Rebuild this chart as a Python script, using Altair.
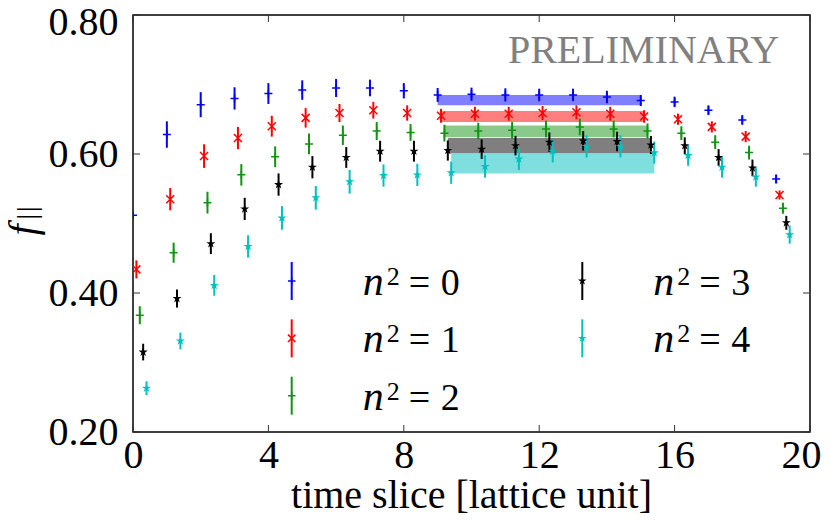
import altair as alt
import pandas as pd

# ---------------- data ----------------
T = list(range(20))
SERIES = ["0", "1", "2", "3", "4"]

F0 = [0.512, 0.628, 0.671, 0.680, 0.687, 0.692, 0.695, 0.695, 0.691, 0.685,
      0.686, 0.685, 0.685, 0.685, 0.682, 0.677, 0.675, 0.663, 0.649, 0.564]
E0 = [0.003, 0.019, 0.018, 0.016, 0.015, 0.014, 0.013, 0.012, 0.011, 0.010,
      0.0095, 0.0095, 0.009, 0.009, 0.009, 0.008, 0.0075, 0.007, 0.007, 0.0065]

F1 = [0.434, 0.535, 0.597, 0.623, 0.640, 0.652, 0.659, 0.663, 0.659, 0.655,
      0.658, 0.658, 0.659, 0.660, 0.658, 0.654, 0.650, 0.639, 0.625, 0.541]
E1 = [0.013, 0.016, 0.017, 0.016, 0.015, 0.014, 0.013, 0.012, 0.011, 0.010,
      0.010, 0.010, 0.010, 0.010, 0.010, 0.009, 0.008, 0.008, 0.008, 0.0065]

F2 = [0.368, 0.458, 0.530, 0.570, 0.596, 0.6145, 0.627, 0.633, 0.631, 0.630,
      0.633, 0.634, 0.636, 0.639, 0.636, 0.633, 0.630, 0.617, 0.602, 0.522]
E2 = [0.013, 0.0145, 0.0157, 0.0155, 0.015, 0.015, 0.014, 0.013, 0.012, 0.012,
      0.012, 0.012, 0.012, 0.012, 0.012, 0.011, 0.010, 0.010, 0.010, 0.008]

F3 = [0.315, 0.392, 0.471, 0.521, 0.556, 0.581, 0.595, 0.604, 0.604, 0.605,
      0.607, 0.612, 0.617, 0.619, 0.618, 0.613, 0.612, 0.595, 0.580, 0.501]
E3 = [0.012, 0.013, 0.015, 0.016, 0.016, 0.016, 0.015, 0.015, 0.015, 0.0145,
      0.014, 0.014, 0.014, 0.014, 0.014, 0.013, 0.012, 0.012, 0.012, 0.010]

F4 = [0.263, 0.331, 0.411, 0.467, 0.508, 0.537, 0.560, 0.569, 0.570, 0.573,
      0.582, 0.593, 0.604, 0.611, 0.611, 0.602, 0.598, 0.581, 0.567, 0.484]
E4 = [0.010, 0.012, 0.015, 0.016, 0.017, 0.017, 0.017, 0.016, 0.016, 0.016,
      0.016, 0.016, 0.016, 0.016, 0.016, 0.016, 0.015, 0.015, 0.014, 0.013]

# fit bands (plateau results)
BAND_X0 = [9.0, 9.1, 9.2, 9.3, 9.4]
BAND_X1 = [15.0, 15.1, 15.2, 15.3, 15.4]
BAND_LO = [0.670, 0.646, 0.624, 0.601, 0.572]
BAND_HI = [0.685, 0.662, 0.641, 0.623, 0.601]

XTICKS = [0, 4, 8, 12, 16, 20]
YTICKS = [0.2, 0.4, 0.6, 0.8]
LEGEND_DIGITS = ["0", "1", "2", "3", "4"]
WATERMARK = "PRELIMINARY"
XTITLE = "time slice [lattice unit]"
YTITLE_MAIN = "f"
YTITLE_SUB = "|"

# ---------------- styles / layout ----------------
COLORS = ["#0000ff", "#ff0000", "#139313", "#000000", "#00c0c0"]
PLUS = "M-1,0L1,0M0,-1L0,1"
CROSS = "M-1,-1L1,1M-1,1L1,-1"
STAR = ("M0,-1L0.225,-0.309L0.951,-0.309L0.363,0.118L0.588,0.809L0,0.382"
        "L-0.588,0.809L-0.363,0.118L-0.951,-0.309L-0.225,-0.309Z")
SHAPES = [PLUS, CROSS, PLUS, STAR, STAR]
FONT = "Liberation Serif"
W, H = 677, 417
XDOM = [0, 20]
YDOM = [0.2, 0.8]
OFFSET = 0.1  # horizontal shift between series

FS = [F0, F1, F2, F3, F4]
ES = [E0, E1, E2, E3, E4]
rows = []
for k, (F, E) in enumerate(zip(FS, ES)):
    for t, f, e in zip(T, F, E):
        rows.append(dict(s=SERIES[k], x=t + OFFSET * k, f=f, lo=f - e, hi=f + e))
df = pd.DataFrame(rows)

bands = pd.DataFrame(dict(s=SERIES, x0=BAND_X0, x1=BAND_X1, lo=BAND_LO, hi=BAND_HI))

xs = alt.Scale(domain=XDOM, nice=False, zero=False)
ys = alt.Scale(domain=YDOM, nice=False, zero=False)
cs = alt.Scale(domain=SERIES, range=COLORS)
ss = alt.Scale(domain=SERIES, range=SHAPES)

X_AXIS = alt.Axis(values=XTICKS, format="d", labelFont=FONT, labelFontSize=40,
                  labelColor="black", ticks=False, domain=False, grid=False,
                  labelPadding=3, labelFlush=False, labelOverlap=False, title=None,
                  labelOffset={"condition": {"test": "datum.value == 20", "value": -9},
                               "value": 0})
Y_AXIS = alt.Axis(values=YTICKS, format=".2f", labelFont=FONT, labelFontSize=40,
                  labelColor="black", ticks=False, domain=False, grid=False,
                  labelPadding=15, labelFlush=False, labelOverlap=False, title=None,
                  labelOffset={"condition": {"test": "datum.value > 0.75", "value": 7},
                               "value": 0})


def X(field):
    return alt.X(field, type="quantitative", scale=xs, axis=X_AXIS)


def Y(field):
    return alt.Y(field, type="quantitative", scale=ys, axis=Y_AXIS)


COL = alt.Color("s:N", scale=cs, legend=None)
SHP = alt.Shape("s:N", scale=ss, legend=None)

band_layer = alt.Chart(bands).mark_rect(opacity=0.5).encode(
    x=X("x0"), x2="x1", y=Y("lo"), y2="hi", color=COL)

err_layer = alt.Chart(df).mark_rule(strokeWidth=2, clip=True).encode(
    x=X("x"), y=Y("lo"), y2="hi", color=COL)

line_pts = alt.Chart(df).transform_filter(
    alt.FieldOneOfPredicate(field="s", oneOf=["0", "1", "2"])
).mark_point(filled=False, size=64, strokeWidth=1.5, opacity=1, clip=True).encode(
    x=X("x"), y=Y("f"), color=COL, shape=SHP)

star_pts = alt.Chart(df).transform_filter(
    alt.FieldOneOfPredicate(field="s", oneOf=["3", "4"])
).mark_point(filled=True, size=90, strokeWidth=0.5, opacity=1, clip=True).encode(
    x=X("x"), y=Y("f"), color=COL, fill=COL, shape=SHP)

# inward ticks on all four sides
xt = pd.DataFrame(dict(v=XTICKS))
yt = pd.DataFrame(dict(v=YTICKS))
TICK = dict(color="#333333", strokeWidth=1)
tick_b = alt.Chart(xt).mark_rule(**TICK).encode(x=X("v"), y=alt.value(H), y2=alt.value(H - 7))
tick_t = alt.Chart(xt).mark_rule(**TICK).encode(x=X("v"), y=alt.value(0), y2=alt.value(7))
tick_l = alt.Chart(yt).mark_rule(**TICK).encode(y=Y("v"), x=alt.value(0), x2=alt.value(7))
tick_r = alt.Chart(yt).mark_rule(**TICK).encode(y=Y("v"), x=alt.value(W), x2=alt.value(W - 7))

# legend (two columns, column-wise fill)
LEG_COL_PX = [158.7, 449.3]
LEG_ROW_PX = [266.0, 323.35, 380.7]
HALF = 19
leg_rows = []
for i, s in enumerate(SERIES):
    px = LEG_COL_PX[i // 3]
    py = LEG_ROW_PX[i % 3]
    leg_rows.append(dict(
        s=s, d=LEGEND_DIGITS[i],
        lx=XDOM[0] + px / W * (XDOM[1] - XDOM[0]),
        ly=YDOM[1] - py / H * (YDOM[1] - YDOM[0]),
        llo=YDOM[1] - (py + HALF) / H * (YDOM[1] - YDOM[0]),
        lhi=YDOM[1] - (py - HALF) / H * (YDOM[1] - YDOM[0]),
    ))
leg = pd.DataFrame(leg_rows)

leg_bar = alt.Chart(leg).mark_rule(strokeWidth=2).encode(
    x=X("lx"), y=Y("llo"), y2="lhi", color=COL)
leg_line_pts = alt.Chart(leg).transform_filter(
    alt.FieldOneOfPredicate(field="s", oneOf=["0", "1", "2"])
).mark_point(filled=False, size=56, strokeWidth=1.5, opacity=1).encode(
    x=X("lx"), y=Y("ly"), color=COL, shape=SHP)
leg_star_pts = alt.Chart(leg).transform_filter(
    alt.FieldOneOfPredicate(field="s", oneOf=["3", "4"])
).mark_point(filled=True, size=80, strokeWidth=0.5, opacity=1).encode(
    x=X("lx"), y=Y("ly"), color=COL, fill=COL, shape=SHP)

TXT = dict(font=FONT, color="black", align="left", baseline="alphabetic")
leg_n = alt.Chart(leg).mark_text(dx=71, dy=14, fontSize=42, fontStyle="italic", **TXT).encode(
    x=X("lx"), y=Y("ly"), text=alt.value("n"))
leg_sup = alt.Chart(leg).mark_text(dx=95, dy=4, fontSize=26, **TXT).encode(
    x=X("lx"), y=Y("ly"), text=alt.value("2"))
leg_eq = alt.Chart(leg).mark_text(dx=117, dy=14, fontSize=38, **TXT).encode(
    x=X("lx"), y=Y("ly"), text=alt.value("="))
leg_d = alt.Chart(leg).mark_text(dx=149, dy=14, fontSize=38, **TXT).encode(
    x=X("lx"), y=Y("ly"), text="d:N")

# annotations / titles
ann = pd.DataFrame(dict(w=[WATERMARK], xt=[XTITLE], ym=[YTITLE_MAIN], ysub=[YTITLE_SUB]))
wm = alt.Chart(ann).mark_text(font=FONT, fontSize=40, color="#808080", align="center",
                              baseline="alphabetic").encode(
    x=alt.value(510.5), y=alt.value(48), text="w:N")
xtitle = alt.Chart(ann).mark_text(font=FONT, fontSize=40, color="black", align="center",
                                  baseline="alphabetic").encode(
    x=alt.value(W / 2), y=alt.value(493), text="xt:N")
ytitle = alt.Chart(ann).mark_text(font=FONT, fontSize=40, fontStyle="italic", color="black",
                                  align="center", baseline="alphabetic", angle=270).encode(
    x=alt.value(-97), y=alt.value(215), text="ym:N")
ysub1 = alt.Chart(ann).mark_text(font=FONT, fontSize=28, color="black",
                                 align="center", baseline="alphabetic", angle=270).encode(
    x=alt.value(-97), y=alt.value(194.3), text="ysub:N")
ysub2 = alt.Chart(ann).mark_text(font=FONT, fontSize=28, color="black",
                                 align="center", baseline="alphabetic", angle=270).encode(
    x=alt.value(-97), y=alt.value(201.7), text="ysub:N")

chart = alt.layer(
    band_layer, err_layer, line_pts, star_pts,
    tick_b, tick_t, tick_l, tick_r,
    leg_bar, leg_line_pts, leg_star_pts, leg_n, leg_sup, leg_eq, leg_d,
    wm, xtitle, ytitle, ysub1, ysub2,
).properties(
    width=W, height=H,
    padding={"left": 125, "top": 7, "right": 12, "bottom": 84},
    autosize=alt.AutoSizeParams(type="none"),
).configure_view(
    stroke="black", strokeWidth=1.5
).configure_axis(
    labelFont=FONT, labelFontSize=40, labelColor="black"
)

chart.save("out.html", embed_options={"renderer": "svg", "actions": False})
